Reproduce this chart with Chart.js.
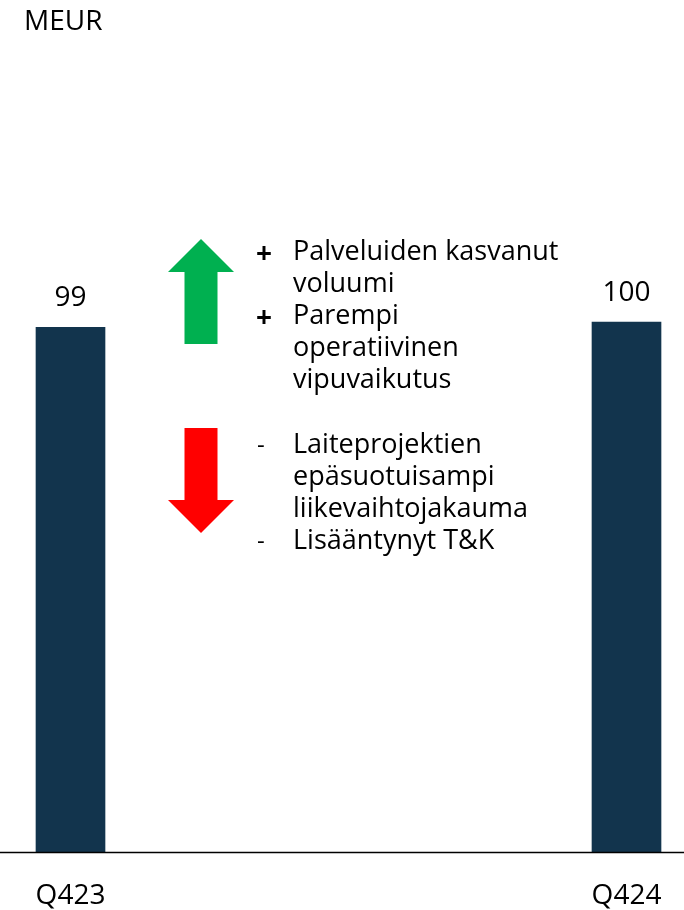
<!DOCTYPE html>
<html>
<head>
<meta charset="utf-8">
<script src="https://cdn.jsdelivr.net/npm/chart.js@4"></script>
<style>
  html, body { margin: 0; padding: 0; background: #fff; }
  #wrap { position: relative; width: 684px; height: 910px; }
</style>
</head>
<body>
<div id="wrap"><canvas id="chart" width="684" height="910"></canvas></div>
<script>
// Data
const quarters = ['Q423', 'Q424'];
const revenue = [99, 100];
const unit = 'MEUR';

// Annotation texts (drivers between the bars)
const positives = [['Palveluiden kasvanut', 'voluumi'], ['Parempi', 'operatiivinen', 'vipuvaikutus']];
const negatives = [['Laiteprojektien', 'epäsuotuisampi', 'liikevaihtojakauma'], ['Lisääntynyt T&K']];

const BAR_COLOR = '#12344D';
const FONT = '"Open Sans", sans-serif';

// ─── Plugins ───────────────────────────────────────────────────

const baseline = {
  id: 'baseline',
  afterDatasetsDraw(chart) {
    const { ctx, scales } = chart;
    const y = Math.round(scales.y.getPixelForValue(0)) + 0.5;
    ctx.save();
    ctx.strokeStyle = '#000';
    ctx.lineWidth = 1.5;
    ctx.beginPath();
    ctx.moveTo(0, y);
    ctx.lineTo(chart.width, y);
    ctx.stroke();
    ctx.restore();
  },
};

const valueLabels = {
  id: 'valueLabels',
  afterDatasetsDraw(chart) {
    const { ctx } = chart;
    const meta = chart.getDatasetMeta(0);
    ctx.save();
    ctx.fillStyle = '#000';
    ctx.font = `28px ${FONT}`;
    ctx.textAlign = 'center';
    ctx.textBaseline = 'alphabetic';
    meta.data.forEach((bar, i) => {
      ctx.fillText(String(revenue[i]), bar.x, bar.y - 21);
    });
    ctx.restore();
  },
};

function arrow(ctx, color, up, top, bottom) {
  const cx = 201, shaftW = 33, headW = 66, headH = 33;
  ctx.fillStyle = color;
  ctx.beginPath();
  if (up) {
    ctx.moveTo(cx, top);
    ctx.lineTo(cx + headW / 2, top + headH);
    ctx.lineTo(cx + shaftW / 2, top + headH);
    ctx.lineTo(cx + shaftW / 2, bottom);
    ctx.lineTo(cx - shaftW / 2, bottom);
    ctx.lineTo(cx - shaftW / 2, top + headH);
    ctx.lineTo(cx - headW / 2, top + headH);
  } else {
    ctx.moveTo(cx - shaftW / 2, top);
    ctx.lineTo(cx + shaftW / 2, top);
    ctx.lineTo(cx + shaftW / 2, bottom - headH);
    ctx.lineTo(cx + headW / 2, bottom - headH);
    ctx.lineTo(cx, bottom);
    ctx.lineTo(cx - headW / 2, bottom - headH);
    ctx.lineTo(cx - shaftW / 2, bottom - headH);
  }
  ctx.closePath();
  ctx.fill();
}

function bullets(ctx, groups, drawMarker, firstBaseline) {
  let y = firstBaseline;
  groups.forEach(lines => {
    drawMarker(y);
    ctx.font = `27px ${FONT}`;
    ctx.textAlign = 'left';
    lines.forEach(line => {
      ctx.fillText(line, 293, y);
      y += 32;
    });
  });
}

const annotations = {
  id: 'annotations',
  afterDraw(chart) {
    const { ctx } = chart;
    ctx.save();
    ctx.fillStyle = '#000';
    ctx.font = `28px ${FONT}`;
    ctx.textAlign = 'left';
    ctx.textBaseline = 'alphabetic';
    ctx.fillText(unit, 24, 30);

    arrow(ctx, '#00B050', true, 239, 344);
    arrow(ctx, '#FF0000', false, 428, 533);

    ctx.fillStyle = '#000';
    bullets(ctx, positives, y => {
      ctx.font = `bold 28px ${FONT}`;
      ctx.textAlign = 'center';
      ctx.fillText('+', 264, y + 3);
    }, 260);
    bullets(ctx, negatives, y => {
      ctx.font = `24px ${FONT}`;
      ctx.textAlign = 'left';
      ctx.fillText('-', 257, y);
    }, 453);
    ctx.restore();
  },
};

// ─── Chart ─────────────────────────────────────────────────────

new Chart(document.getElementById('chart'), {
  type: 'bar',
  data: {
    labels: quarters,
    datasets: [{
      data: revenue,
      backgroundColor: BAR_COLOR,
      barThickness: 69,
      clip: false,
    }],
  },
  options: {
    responsive: false,
    animation: false,
    layout: { padding: { top: 57, left: 70.5, right: 57.5, bottom: 0 } },
    plugins: { legend: { display: false }, tooltip: { enabled: false } },
    scales: {
      x: {
        offset: false,
        grid: { display: false, drawTicks: false },
        border: { display: false },
        ticks: {
          color: '#000',
          padding: 27,
          maxRotation: 0,
          font: { family: FONT, size: 28 },
        },
        afterFit: s => {
          s.height = 58;
          s.paddingLeft = 0;
          s.paddingRight = 0;
        },
      },
      y: { display: false, min: 0, max: 150 },
    },
  },
  plugins: [baseline, valueLabels, annotations],
});
</script>
</body>
</html>
